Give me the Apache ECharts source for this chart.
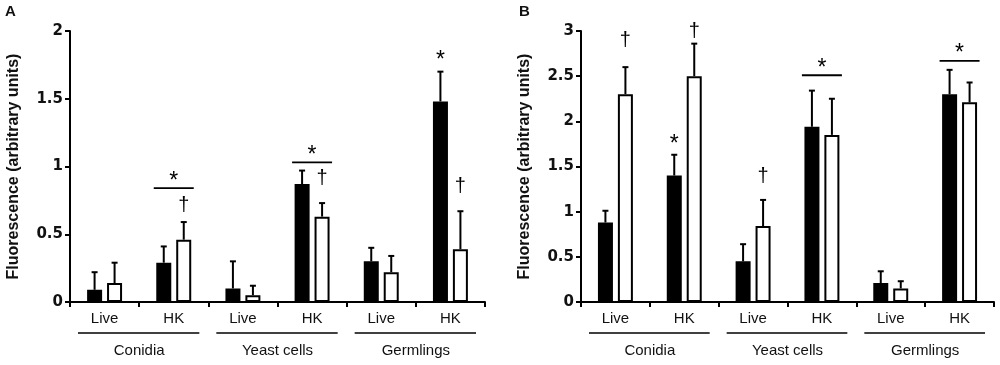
<!DOCTYPE html>
<html><head><meta charset="utf-8">
<script src="https://cdn.jsdelivr.net/npm/echarts@6/dist/echarts.min.js"></script>
<style>html,body{margin:0;padding:0;background:#fff}#c{width:1000px;height:365px}</style>
</head><body><div id="c"></div>
<script>
// ---- data ----
const categories = ['Live', 'HK', 'Live', 'HK', 'Live', 'HK'];
const groups = ['Conidia', 'Yeast cells', 'Germlings'];
const yMaxA = 2, yMaxB = 3, yStep = 0.5;

const aBlack    = [0.09, 0.29, 0.10, 0.87, 0.30, 1.48];
const aBlackErr = [0.13, 0.12, 0.20, 0.10, 0.10, 0.22];
const aWhite    = [0.14, 0.46, 0.05, 0.63, 0.22, 0.39];
const aWhiteErr = [0.15, 0.13, 0.07, 0.10, 0.12, 0.28];

const bBlack    = [0.88, 1.40, 0.45, 1.94, 0.21, 2.30];
const bBlackErr = [0.13, 0.23, 0.19, 0.40, 0.13, 0.27];
const bWhite    = [2.30, 2.50, 0.84, 1.85, 0.15, 2.21];
const bWhiteErr = [0.30, 0.36, 0.29, 0.40, 0.08, 0.22];

// significance marks (level in data units, null = none)
const aStarBlack   = [null, null, null, null, null, 1.82];
const aDaggerWhite = [null, 0.71, null, 0.91, null, 0.85];
const aSigLine     = [null, 0.84, null, 1.03, null, null];
const bStarBlack   = [null, 1.80, null, null, null, null];
const bDaggerWhite = [2.89, 3.00, 1.39, null, null, null];
const bSigLine     = [null, null, null, 2.51, null, 2.67];

// ---- style ----
const BAR_W = 15, BAR_OFF = 10;
const FONT = 'Liberation Sans';
const TXT = '#111';

const chart = echarts.init(document.getElementById('c'), null, {renderer: 'canvas'});

function errSeries(vals, errs, side, gi) {
  return {
    type: 'custom', xAxisIndex: gi * 2, yAxisIndex: gi, clip: false, z: 5,
    data: vals.map((v, i) => [i, v, errs[i]]),
    renderItem: (params, api) => {
      const c = api.coord([api.value(0), api.value(1)]);
      const t = api.coord([api.value(0), api.value(1) + api.value(2)]);
      const x = c[0] + side * BAR_OFF;
      const st = {stroke: '#000', lineWidth: 2};
      return {type: 'group', children: [
        {type: 'line', shape: {x1: x, y1: c[1], x2: x, y2: t[1]}, style: st},
        {type: 'line', shape: {x1: x - 3, y1: t[1], x2: x + 3, y2: t[1]}, style: st}
      ]};
    }
  };
}

function markSeries(stars, daggers, sig, gi) {
  const rows = [];
  stars.forEach((v, i) => { if (v != null) rows.push([i, v, 0]); });
  daggers.forEach((v, i) => { if (v != null) rows.push([i, v, 1]); });
  sig.forEach((v, i) => { if (v != null) rows.push([i, v, 2]); });
  return {
    type: 'custom', xAxisIndex: gi * 2, yAxisIndex: gi, clip: false, z: 6,
    data: rows,
    renderItem: (params, api) => {
      const kind = api.value(2);
      const p = api.coord([api.value(0), api.value(1)]);
      if (kind === 0) {
        return {type: 'text', x: p[0] - BAR_OFF, y: p[1] + 5,
          style: {text: '*', font: '23px ' + FONT, fill: '#000', align: 'center', verticalAlign: 'middle'}};
      }
      if (kind === 1) {
        return {type: 'text', x: p[0] + BAR_OFF, y: p[1],
          style: {text: '\u2020', font: '20px ' + FONT, fill: '#000', align: 'center', verticalAlign: 'middle'}};
      }
      return {type: 'group', children: [
        {type: 'line', shape: {x1: p[0] - 20, y1: p[1], x2: p[0] + 20, y2: p[1]}, style: {stroke: '#000', lineWidth: 1.8}},
        {type: 'text', x: p[0], y: p[1] - 7,
          style: {text: '*', font: '23px ' + FONT, fill: '#000', align: 'center', verticalAlign: 'middle'}}
      ]};
    }
  };
}

function groupLineSeries(gi) {
  return {
    type: 'custom', xAxisIndex: gi * 2 + 1, yAxisIndex: gi, clip: false,
    data: groups.map((g, i) => [i, 0]),
    renderItem: (params, api) => {
      const p = api.coord([api.value(0), 0]);
      const w = api.size([1, 0])[0];
      const y = p[1] + 31;
      return {type: 'line', shape: {x1: p[0] - w / 2 + 8, y1: y, x2: p[0] + w / 2 - 9, y2: y},
        style: {stroke: '#000', lineWidth: 1.4}};
    }
  };
}

function barSeries(vals, fill, gi) {
  return {
    type: 'bar', xAxisIndex: gi * 2, yAxisIndex: gi, data: vals,
    barWidth: BAR_W, barGap: '33%',
    itemStyle: {color: fill, borderColor: '#000', borderWidth: 2}
  };
}

function xAxes(gi) {
  return [{
    type: 'category', gridIndex: gi, data: categories, position: 'bottom',
    axisLine: {lineStyle: {color: '#000', width: 2}},
    axisTick: {show: true, length: 5, lineStyle: {color: '#000', width: 2}},
    axisLabel: {color: TXT, fontFamily: FONT, fontSize: 15, margin: 9}
  }, {
    type: 'category', gridIndex: gi, data: groups, position: 'bottom',
    axisLine: {show: false}, axisTick: {show: false},
    axisLabel: {color: TXT, fontFamily: FONT, fontSize: 15, margin: 41}
  }];
}

function yAxis(gi, max) {
  return {
    type: 'value', gridIndex: gi, min: 0, max: max, interval: yStep,
    splitLine: {show: false},
    axisLine: {show: true, lineStyle: {color: '#000', width: 2}},
    axisTick: {show: true, length: 5, lineStyle: {color: '#000', width: 2}},
    axisLabel: {color: TXT, fontFamily: 'DejaVu Sans', fontWeight: 'bold', fontSize: 15, margin: 7},
    name: 'Fluorescence (arbitrary units)', nameLocation: 'middle', nameGap: 48,
    nameTextStyle: {color: TXT, fontFamily: FONT, fontWeight: 'bold', fontSize: 16}
  };
}

chart.setOption({
  animation: false,
  backgroundColor: '#fff',
  grid: [
    {left: 70, top: 31, width: 415, height: 271},
    {left: 581, top: 31, width: 413, height: 271}
  ],
  xAxis: [...xAxes(0), ...xAxes(1)],
  yAxis: [yAxis(0, yMaxA), yAxis(1, yMaxB)],
  graphic: [
    {type: 'text', left: 5, top: 4, style: {text: 'A', font: 'bold 15px ' + FONT, fill: TXT}},
    {type: 'text', left: 519, top: 4, style: {text: 'B', font: 'bold 15px ' + FONT, fill: TXT}}
  ],
  series: [
    barSeries(aBlack, '#000', 0), barSeries(aWhite, '#fff', 0),
    errSeries(aBlack, aBlackErr, -1, 0), errSeries(aWhite, aWhiteErr, 1, 0),
    markSeries(aStarBlack, aDaggerWhite, aSigLine, 0), groupLineSeries(0),
    barSeries(bBlack, '#000', 1), barSeries(bWhite, '#fff', 1),
    errSeries(bBlack, bBlackErr, -1, 1), errSeries(bWhite, bWhiteErr, 1, 1),
    markSeries(bStarBlack, bDaggerWhite, bSigLine, 1), groupLineSeries(1)
  ]
});
</script>
</body></html>
